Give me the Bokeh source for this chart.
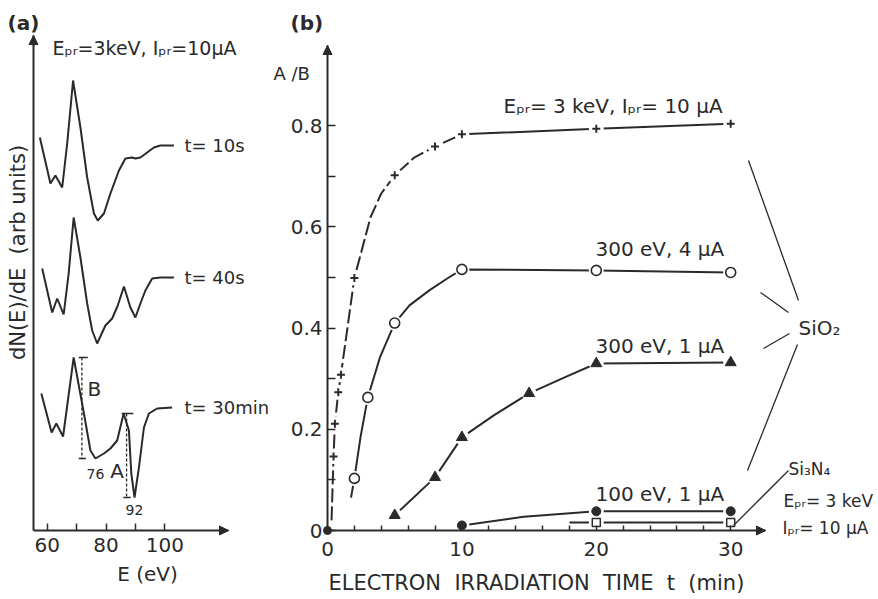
import math
from bokeh.plotting import figure
from bokeh.layouts import row
from bokeh.models import FixedTicker, Arrow, NormalHead, Label
from bokeh.embed import file_html
from bokeh.resources import INLINE

FONT = "DejaVu Sans"
INK = "#2a2a2a"

# ================= data: panel (a)  dN(E)/dE spectra =================
E_10s = [57.5, 61.1, 62.8, 65.1, 66.8, 68.8, 71.3, 73.6, 75.9, 77.2, 79.3, 81.5,
         84.4, 86.6, 88.9, 90.0, 91.7, 94.0, 96.3, 98.5, 100.8, 103.1]
N_10s = [39.3, 34.7, 35.5, 34.3, 38.7, 45.0, 40.3, 35.3, 31.7, 31.0, 31.7, 33.7,
         36.0, 37.2, 37.3, 37.2, 37.3, 37.8, 38.3, 38.5, 38.5, 38.5]

E_40s = [58.3, 61.7, 63.4, 65.6, 67.3, 69.0, 71.3, 73.6, 75.3, 77.0, 79.8, 82.1,
         84.0, 86.1, 88.3, 90.0, 91.7, 93.4, 95.7, 98.5, 103.1]
N_40s = [26.2, 21.8, 23.2, 21.6, 25.7, 31.3, 27.3, 22.7, 20.0, 18.7, 20.5, 21.2,
         22.5, 24.4, 22.3, 21.3, 22.7, 24.0, 25.2, 25.3, 25.3]

E_30m = [58.0, 61.5, 63.1, 65.4, 69.0, 72.5, 74.7, 76.4, 79.3, 81.5, 83.8, 86.0,
         87.8, 88.6, 89.7, 91.2, 92.9, 94.6, 97.4, 102.5]
N_30m = [13.7, 9.8, 10.7, 9.4, 17.3, 11.7, 8.0, 7.2, 7.7, 8.2, 9.0, 11.7,
         10.0, 5.7, 3.3, 6.3, 10.3, 11.7, 12.2, 12.3]

spectra_labels = ["t= 10s", "t= 40s", "t= 30min"]
a_xticks = [60, 80, 100]
a_xminor = [70, 90]

# ================= data: panel (b)  A/B vs irradiation time =================
# E_pr = 3 keV, I_pr = 10 uA  (plus markers)
plus_t = [0.45, 0.55, 0.8, 1.0, 2.0, 5.0, 8.0, 10.0, 20.0, 30.0]
plus_ab = [0.146, 0.211, 0.273, 0.308, 0.499, 0.702, 0.759, 0.783, 0.794, 0.804]
plus_curve_t = [0.3, 0.45, 0.55, 0.8, 1.0, 2.0, 3.2, 4.0, 5.0, 6.45, 8.0, 10.0, 20.0, 30.0]
plus_curve_ab = [0.02, 0.146, 0.211, 0.273, 0.308, 0.499, 0.619, 0.666, 0.702, 0.737, 0.759, 0.783, 0.794, 0.804]

# 300 eV, 4 uA (open circles)
circ_t = [2.0, 3.0, 5.0, 10.0, 20.0, 30.0]
circ_ab = [0.103, 0.263, 0.410, 0.516, 0.514, 0.510]
circ_curve_t = [1.75, 2.0, 2.46, 3.0, 3.9, 5.0, 6.1, 7.6, 8.85, 10.0, 20.0, 30.0]
circ_curve_ab = [0.065, 0.103, 0.185, 0.263, 0.342, 0.410, 0.445, 0.475, 0.497, 0.516, 0.514, 0.510]

# 300 eV, 1 uA (filled triangles)
tri_t = [5.0, 8.0, 10.0, 15.0, 20.0, 30.0]
tri_ab = [0.030, 0.105, 0.184, 0.271, 0.330, 0.332]
tri_curve_t = [5.0, 8.0, 10.0, 12.4, 15.0, 17.6, 20.0, 30.0]
tri_curve_ab = [0.030, 0.105, 0.184, 0.228, 0.271, 0.302, 0.330, 0.332]

# 100 eV, 1 uA (filled circles)
dot_t = [10.0, 20.0, 30.0]
dot_ab = [0.010, 0.038, 0.038]
dot_curve_t = [10.0, 14.6, 20.0, 30.0]
dot_curve_ab = [0.010, 0.027, 0.038, 0.038]

# Si3N4, 3 keV, 10 uA (open squares)
sq_t = [20.0, 30.0]
sq_ab = [0.016, 0.016]
sq_curve_t = [18.0, 20.0, 30.0]
sq_curve_ab = [0.016, 0.016, 0.016]

origin_t = [0.0]
origin_ab = [0.0]

b_xticks = [0, 10, 20, 30]
b_xminor = [2, 4, 6, 8, 12, 14, 16, 18, 22, 24, 26, 28]
b_yticks = [0, 0.2, 0.4, 0.6, 0.8]
b_yminor = [0.1, 0.3, 0.5, 0.7]
b_ylabels = {0: "0", 0.2: "0.2", 0.4: "0.4", 0.6: "0.6", 0.8: "0.8"}

# ================= layout (pixel geometry of the page) =================
H = 598
WA, WB = 272, 606


def txt(p, x, y, s, size=19, align="left", baseline="middle", angle=0.0, style="normal"):
    p.add_layout(Label(x=x, y=y, text=s, text_font=FONT, text_font_size=f"{size}px",
                       text_color=INK, text_align=align, text_baseline=baseline,
                       angle=angle, text_font_style=style))


def style_fig(p):
    p.outline_line_color = None
    p.xgrid.visible = False
    p.ygrid.visible = False
    p.background_fill_color = "white"
    p.border_fill_color = "white"
    for ax in (p.xaxis, p.yaxis):
        ax.axis_line_color = INK
        ax.axis_line_width = 2
        ax.major_tick_line_color = INK
        ax.minor_tick_line_color = INK
        ax.major_tick_line_width = 1.5
        ax.minor_tick_line_width = 1.5
        ax.major_tick_out = 0
        ax.minor_tick_out = 0
        ax.major_label_text_font = FONT
        ax.major_label_text_color = INK
        ax.major_label_text_font_size = "20px"


def arrow_head(p, xs, ys, xe, ye):
    p.add_layout(Arrow(end=NormalHead(size=9, fill_color=INK, line_color=INK, line_width=1),
                       x_start=xs, y_start=ys, x_end=xe, y_end=ye,
                       line_color=INK, line_width=2))


# ======================= panel (a) =======================
# x: E = 60 + (px - 46.7)/2.94 ; y: (530 - py)/10
a_x = lambda px: 60 + (px - 46.7) / 2.94
a_y = lambda py: (530 - py) / 10.0
A_ORIG_E = a_x(33)
A_XTIP, A_YTIP = a_x(228), a_y(35)

pa = figure(width=WA, height=H, x_range=(a_x(0), a_x(WA)), y_range=(a_y(H), a_y(0)),
            output_backend="svg", toolbar_location=None,
            min_border_left=0, min_border_right=0, min_border_top=0, min_border_bottom=0)
style_fig(pa)
pa.xaxis.fixed_location = 0
pa.yaxis.fixed_location = A_ORIG_E
pa.xaxis.ticker = FixedTicker(ticks=a_xticks, minor_ticks=a_xminor)
pa.xaxis.major_tick_in = 7
pa.xaxis.minor_tick_in = 7
pa.xaxis.major_label_standoff = 7
pa.xaxis.bounds = (A_ORIG_E, A_XTIP)
pa.yaxis.ticker = FixedTicker(ticks=[])
pa.yaxis.bounds = (0, A_YTIP)
arrow_head(pa, A_XTIP - 1, 0, A_XTIP, 0)
arrow_head(pa, A_ORIG_E, A_YTIP - 1, A_ORIG_E, A_YTIP)

for E, N in ((E_10s, N_10s), (E_40s, N_40s), (E_30m, N_30m)):
    pa.line(E, N, line_color=INK, line_width=2)

for (E, N), lab in zip(((E_10s, N_10s), (E_40s, N_40s), (E_30m, N_30m)), spectra_labels):
    txt(pa, a_x(184), N[-1], lab, size=18)

# B and A peak-to-peak markers on the 30 min spectrum
B_top = max(N_30m)
B_bot = min(n for e, n in zip(E_30m, N_30m) if e < 80)
A_top = max(n for e, n in zip(E_30m, N_30m) if 84 < e < 88)
A_bot = min(N_30m)
B_E, A_E = 71.8, 87.0
pa.segment([B_E], [B_top], [B_E], [B_bot], line_color=INK, line_width=1.3, line_dash="3 2")
pa.segment([B_E - 1.1, B_E - 1.1], [B_top, B_bot], [B_E + 2.0, B_E + 1.4], [B_top, B_bot],
           line_color=INK, line_width=1.3)
pa.segment([A_E], [A_top], [A_E], [A_bot], line_color=INK, line_width=1.3, line_dash="3 2")
pa.segment([A_E - 1.7, A_E - 1.1], [A_top, A_bot], [A_E + 2.3, A_E + 1.4], [A_top, A_bot],
           line_color=INK, line_width=1.3)
txt(pa, a_x(87), a_y(388), "B", size=20)
txt(pa, a_x(116.5), a_y(470), "A", size=20, align="center")
txt(pa, a_x(95), a_y(473), "76", size=14, align="center")
txt(pa, a_x(134), a_y(509), "92", size=14, align="center")

txt(pa, a_x(7), a_y(22), "(a)", size=20, style="bold")
txt(pa, a_x(52), a_y(47), "E\u209a\u1d63=3keV, I\u209a\u1d63=10\u00b5A", size=19)
txt(pa, a_x(17), a_y(252), "dN(E)/dE\u00a0\u00a0(arb units)", size=21, align="center", angle=math.pi / 2)
txt(pa, a_x(147), a_y(573), "E (eV)", size=20, align="center")

# ======================= panel (b) =======================
# x: t = (px - 327)/13.44 ; y: (530 - py)/506   (px in page coordinates)
b_x = lambda px: (px - 327) / 13.44
b_y = lambda py: (530 - py) / 506.0
B_XTIP, B_YTIP = b_x(765), b_y(45)

pb = figure(width=WB, height=H, x_range=(b_x(WA), b_x(WA + WB)), y_range=(b_y(H), b_y(0)),
            output_backend="svg", toolbar_location=None,
            min_border_left=0, min_border_right=0, min_border_top=0, min_border_bottom=0)
style_fig(pb)
pb.xaxis.fixed_location = 0
pb.yaxis.fixed_location = 0
pb.xaxis.ticker = FixedTicker(ticks=b_xticks, minor_ticks=b_xminor)
pb.xaxis.major_tick_in = 5
pb.xaxis.minor_tick_in = 5
pb.xaxis.major_label_standoff = 11
pb.xaxis.bounds = (0, B_XTIP)
pb.yaxis.ticker = FixedTicker(ticks=b_yticks, minor_ticks=b_yminor)
pb.yaxis.major_label_overrides = b_ylabels
pb.yaxis.major_tick_in = 8
pb.yaxis.minor_tick_in = 8
pb.yaxis.major_label_standoff = 5
pb.yaxis.bounds = (0, B_YTIP)
arrow_head(pb, B_XTIP - 0.1, 0, B_XTIP, 0)
arrow_head(pb, 0, B_YTIP - 0.01, 0, B_YTIP)

# curves
k10 = plus_curve_t.index(10.0)
pb.line(plus_curve_t[:k10 + 1], plus_curve_ab[:k10 + 1], line_color=INK, line_width=2, line_dash="14 4")
pb.line(plus_curve_t[k10:], plus_curve_ab[k10:], line_color=INK, line_width=2)
pb.line(circ_curve_t, circ_curve_ab, line_color=INK, line_width=2)
pb.line(tri_curve_t, tri_curve_ab, line_color=INK, line_width=2)
pb.line(dot_curve_t, dot_curve_ab, line_color=INK, line_width=2)
pb.line(sq_curve_t, sq_curve_ab, line_color=INK, line_width=2)

# white halos -> gaps of the line around each marker
for T, V in ((plus_t, plus_ab), (circ_t, circ_ab), (tri_t, tri_ab), (dot_t, dot_ab), (sq_t, sq_ab)):
    pb.scatter(T, V, marker="circle", size=15, fill_color="white", line_color=None)

pb.scatter(plus_t, plus_ab, marker="cross", size=8, line_color=INK, line_width=2)
pb.scatter(circ_t, circ_ab, marker="circle", size=10, fill_color="white", line_color=INK, line_width=1.6)
pb.scatter(tri_t, tri_ab, marker="triangle", size=11, fill_color=INK, line_color=INK)
pb.scatter(dot_t, dot_ab, marker="circle", size=9, fill_color=INK, line_color=INK)
pb.scatter(sq_t, sq_ab, marker="square", size=8, fill_color="white", line_color=INK, line_width=1.5)
pb.scatter(origin_t, origin_ab, marker="circle", size=8, fill_color=INK, line_color=INK)

# connector lines to the SiO2 / Si3N4 labels (page pixel geometry)
conn = [((748, 160), (798, 300)), ((760, 292), (788, 312)), ((763, 348), (789, 333)),
        ((797, 344), (747, 470)), ((733, 525), (788, 470))]
pb.segment([b_x(a[0]) for a, b in conn], [b_y(a[1]) for a, b in conn],
           [b_x(b[0]) for a, b in conn], [b_y(b[1]) for a, b in conn],
           line_color=INK, line_width=1.3)

txt(pb, b_x(290), b_y(22), "(b)", size=20, style="bold")
txt(pb, b_x(273), b_y(73), "A /B", size=18)
txt(pb, b_x(503), b_y(105), "E\u209a\u1d63= 3 keV, I\u209a\u1d63= 10 \u00b5A", size=20)
txt(pb, b_x(595), b_y(248), "300 eV, 4 \u00b5A", size=20)
txt(pb, b_x(595), b_y(345), "300 eV, 1 \u00b5A", size=20)
txt(pb, b_x(595), b_y(493), "100 eV, 1 \u00b5A", size=20)
txt(pb, b_x(798), b_y(327), "SiO\u2082", size=20)
txt(pb, b_x(788), b_y(468), "Si\u2083N\u2084", size=17)
txt(pb, b_x(783), b_y(500), "E\u209a\u1d63= 3 keV", size=17)
txt(pb, b_x(782), b_y(527), "I\u209a\u1d63= 10 \u00b5A", size=17)
txt(pb, b_x(328), b_y(582), "ELECTRON\u00a0\u00a0IRRADIATION\u00a0\u00a0TIME\u00a0\u00a0t\u00a0\u00a0(min)", size=21)

layout = row(pa, pb)
open("out.html", "w").write(file_html(layout, INLINE))
